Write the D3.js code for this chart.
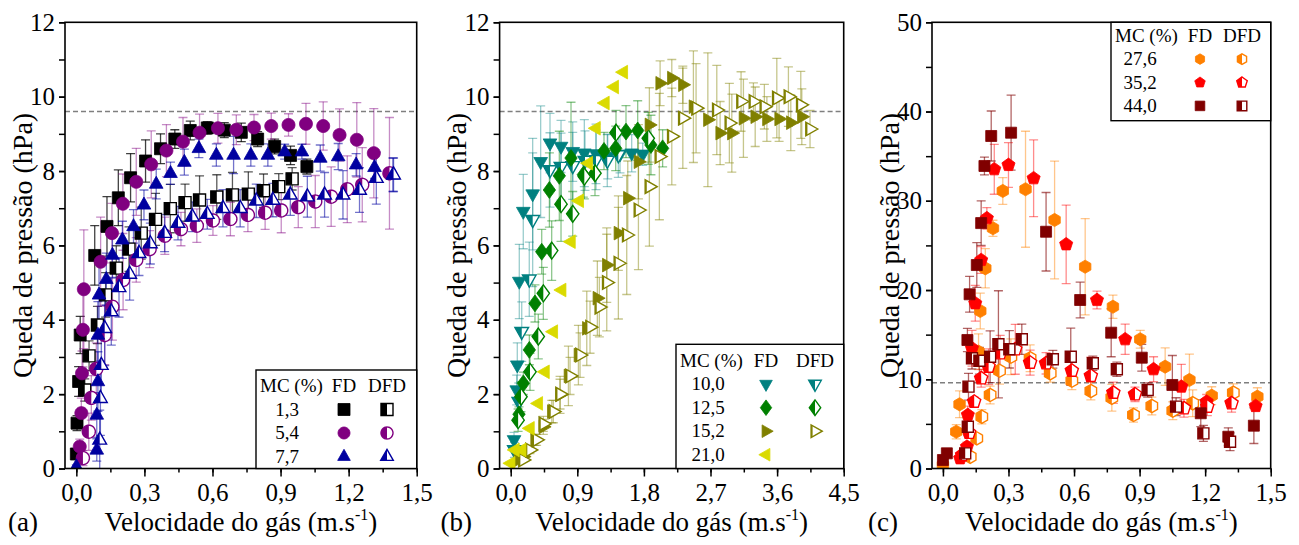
<!DOCTYPE html>
<html>
<head>
<meta charset="utf-8">
<script src="https://cdn.jsdelivr.net/npm/d3@7"></script>
<style>
  body { margin: 0; background: #fff; }
  svg { display: block; }
  text { font-family: "Liberation Serif", "Times New Roman", serif; fill: #000; }
</style>
</head>
<body>
<svg id="chart" width="1299" height="545"></svg>
<script>
// ---------------- Panel (a): MC 1,3 / 5,4 / 7,7 % ----------------
const velA_FD13 = [0.0,0.003,0.010,0.017,0.081,0.135,0.185,0.239,0.305,0.371,0.434,0.502,0.577,0.652,0.727,0.799,0.874,0.944,1.016];
const dpA_FD13  = [0.39,1.22,2.34,3.59,5.73,6.51,7.28,7.82,8.27,8.6,8.86,9.09,9.16,9.10,9.04,8.86,8.66,8.42,8.12];
const errA_FD13 = [0.1,0.2,0.4,0.5,0.8,0.8,0.75,0.65,0.57,0.4,0.25,0.25,0.17,0.2,0.25,0.2,0.2,0.25,0.2];

const velA_DFD13 = [0.037,0.056,0.093,0.129,0.176,0.232,0.286,0.349,0.414,0.479,0.543,0.619,0.688,0.758,0.825,0.892,0.951];
const dpA_DFD13  = [2.11,3.03,3.86,4.67,5.39,5.9,6.33,6.7,6.99,7.15,7.22,7.3,7.36,7.38,7.47,7.58,7.79];
const errA_DFD13 = [0.3,0.4,0.5,0.6,0.6,0.6,0.7,0.7,0.65,0.5,0.65,0.6,0.6,0.6,0.45,0.35,0.3];

const velA_FD54 = [0.015,0.022,0.025,0.029,0.033,0.107,0.157,0.205,0.264,0.33,0.397,0.47,0.543,0.624,0.705,0.783,0.859,0.935,1.012,1.088,1.16,1.236,1.311];
const dpA_FD54  = [0.59,1.49,2.56,3.73,4.82,5.56,6.33,7.12,7.71,8.18,8.55,8.79,9.03,9.15,9.11,9.17,9.21,9.24,9.27,9.21,8.97,8.84,8.48];
const errA_FD54 = [0.2,0.4,0.6,1.0,1.6,1.2,0.8,0.8,0.9,0.9,0.7,0.65,0.5,0.4,0.4,0.35,0.35,0.3,0.55,0.65,0.7,1.0,1.2];

const velA_DFD54 = [0.029,0.055,0.066,0.088,0.125,0.159,0.206,0.264,0.323,0.39,0.461,0.531,0.602,0.679,0.756,0.832,0.903,0.978,1.053,1.123,1.194,1.26,1.38];
const dpA_DFD54  = [0.28,0.99,1.9,2.68,3.59,4.35,5.07,5.61,5.9,6.26,6.44,6.53,6.67,6.71,6.82,6.88,6.94,7.03,7.18,7.31,7.51,7.63,7.94];
const errA_DFD54 = [0.2,0.5,0.6,0.7,0.8,0.9,0.8,0.6,0.5,0.5,0.45,0.45,0.4,0.45,0.45,0.45,0.6,0.55,0.7,0.8,0.9,1.0,1.5];

const velA_FD77 = [0.0,0.09,0.09,0.095,0.095,0.1,0.132,0.159,0.203,0.252,0.298,0.352,0.415,0.476,0.54,0.617,0.693,0.769,0.844,0.918,0.994,1.075,1.154,1.233,1.314,1.395];
const dpA_FD77  = [0.05,0.5,1.44,2.34,3.59,4.67,5.09,5.74,6.15,6.51,7.09,7.65,7.94,8.24,8.61,8.43,8.43,8.43,8.43,8.52,8.52,8.35,8.39,8.17,8.1,7.9];
const errA_FD77 = [0.05,0.3,0.6,0.8,0.9,0.9,0.7,0.6,0.5,0.45,0.4,0.4,0.3,0.35,0.25,0.3,0.5,0.3,0.3,0.2,0.2,0.35,0.35,0.3,0.3,0.45];

const velA_DFD77 = [0.103,0.106,0.11,0.125,0.154,0.188,0.235,0.276,0.326,0.389,0.448,0.511,0.577,0.646,0.722,0.793,0.866,0.943,1.018,1.094,1.175,1.248,1.322,1.398];
const dpA_DFD77  = [0.77,1.89,2.78,3.77,4.22,4.87,5.23,5.79,6.05,6.33,6.6,6.77,6.84,7.0,7.0,7.2,7.22,7.36,7.31,7.36,7.36,7.49,7.81,7.9];
const errA_DFD77 = [0.8,1.0,1.0,1.0,0.9,0.8,0.7,0.6,0.55,0.5,0.45,0.4,0.4,0.5,0.5,0.45,0.45,0.55,0.55,0.6,0.65,0.6,0.7,0.45];

// ---------------- Panel (b): MC 10,0 / 12,5 / 15,2 / 21,0 % ----------------
const velB_FD100 = [0.045,0.081,0.089,0.116,0.17,0.297,0.405,0.531,0.68,0.838,0.995,1.153,1.311,1.477,1.635,1.784];
const dpB_FD100  = [0.77,2.11,2.78,5.03,6.91,7.38,8.25,8.75,8.66,8.52,8.48,8.46,8.39,8.45,8.48,8.45];
const errB_FD100 = [0.2,0.4,0.6,1.0,1.0,1.5,1.5,0.8,0.7,0.8,0.9,0.8,0.6,0.5,0.5,0.3];

const velB_DFD100 = [0.05,0.11,0.149,0.251,0.297,0.531,0.68,0.838,1.004,1.153,1.305,1.454];
const dpB_DFD100  = [0.5,1.8,3.68,5.09,6.69,8.03,8.12,8.14,8.28,8.3,8.28,8.43];
const errB_DFD100 = [0.2,0.5,0.8,1.0,1.8,1.0,0.9,0.9,0.8,0.8,0.7,0.6];

const velB_FD125 = [0.112,0.171,0.252,0.328,0.419,0.523,0.657,0.815,0.981,1.261,1.419,1.558,1.716,1.895,2.053];
const dpB_FD125  = [1.46,2.29,3.19,4.44,5.83,7.49,7.87,8.35,7.9,8.54,8.61,9.06,9.09,8.7,8.61];
const errB_FD125 = [0.2,0.3,0.4,0.5,0.6,1.0,1.2,1.5,0.6,0.5,0.6,0.7,0.8,0.8,0.5];

const velB_DFD125 = [0.10,0.139,0.261,0.373,0.441,0.554,0.68,0.838,0.995,1.139,1.423,1.859];
const dpB_DFD125  = [1.3,1.93,2.6,3.55,4.71,5.86,7.11,6.85,7.85,7.94,9.03,8.88];
const errB_DFD125 = [0.3,0.4,0.5,0.6,0.7,0.8,1.0,0.6,0.6,0.6,0.6,0.7];

const velB_FD152 = [0.103,0.171,0.329,0.441,0.555,0.667,0.78,0.915,1.028,1.171,1.298,1.455,1.582,1.726,1.874,2.019,2.177,2.326,2.469,2.664,2.83,2.988,3.145,3.304,3.462,3.627,3.785,3.934];
const dpB_FD152  = [0.23,0.32,0.77,1.12,1.53,1.98,2.49,3.05,3.77,4.58,5.47,6.33,7.27,8.25,9.24,10.36,10.5,10.32,9.73,9.38,9.02,9.02,9.42,9.46,9.4,9.4,9.3,9.46];
const errB_FD152 = [0.05,0.1,0.15,0.2,0.3,0.5,0.8,0.8,1.0,1.0,1.0,1.0,1.0,1.0,1.0,0.6,0.5,0.5,1.5,1.8,0.85,1.05,1.05,0.8,0.6,0.6,0.75,0.75];

const velB_DFD152 = [0.166,0.26,0.35,0.441,0.576,0.667,0.802,0.937,1.072,1.198,1.298,1.455,1.568,1.726,1.874,2.009,2.177,2.326,2.505,2.785,2.955,3.113,3.28,3.428,3.596,3.753,3.92,4.045];
const dpB_DFD152  = [0.23,0.5,0.77,1.2,1.53,2.0,2.49,3.05,3.8,4.34,5.0,5.52,6.28,6.95,7.58,8.39,8.93,9.42,9.69,9.64,9.29,9.87,9.87,9.73,9.96,10.0,9.78,9.13];
const errB_DFD152 = [0.05,0.1,0.15,0.2,0.3,0.4,0.5,0.6,0.7,0.8,1.3,1.5,1.6,1.6,1.6,1.7,1.3,1.35,1.2,1.2,1.07,0.8,0.5,0.6,1.07,0.8,0.9,0.5];

const velB_FD210 = [0.0,0.058,0.149,0.261,0.373,0.464,0.576,0.689,0.815,0.927,1.049,1.153,1.274,1.4,1.522];
const dpB_FD210  = [0.14,0.5,0.5,1.08,1.75,2.6,3.68,4.8,6.1,7.2,8.21,9.15,9.83,10.26,10.66];
const errB_FD210 = [0,0,0,0,0,0,0,0,0,0,0,0,0,0,0];

// ---------------- Panel (c): MC 27,6 / 35,2 / 44,0 % ----------------
const velC_FD276 = [0.0,0.061,0.076,0.163,0.171,0.194,0.229,0.274,0.378,0.511,0.651,0.778,0.903,1.017,1.128,1.23,1.439];
const dpC_FD276  = [0.39,4.12,7.19,13.09,17.65,22.43,26.92,31.1,31.29,27.85,22.61,18.13,14.48,11.41,9.92,8.16,8.05];
const errC_FD276 = [0.2,0.8,1.5,2.0,2.0,2.2,0.9,1.5,6.5,6.6,5.4,1.3,1.0,2.1,2.9,1.0,1.0];

const velC_DFD276 = [0.125,0.155,0.178,0.216,0.259,0.311,0.399,0.491,0.59,0.677,0.773,0.872,0.956,1.052,1.143,1.329];
const dpC_DFD276  = [1.32,3.38,5.8,8.24,10.96,12.53,12.35,10.67,9.84,8.68,7.93,6.0,7.0,6.48,7.31,8.49];
const errC_DFD276 = [0.3,0.5,0.8,1.0,1.5,2.0,1.5,1.0,1.0,1.0,1.5,0.8,1.0,1.0,1.5,1.0];

const velC_FD352 = [0.079,0.11,0.114,0.133,0.148,0.175,0.201,0.235,0.3,0.415,0.564,0.705,0.834,0.964,1.091,1.207,1.431];
const dpC_FD352  = [1.14,2.44,6.0,13.47,18.51,23.36,28.04,33.53,34.01,32.52,25.12,18.88,14.48,11.12,9.17,7.49,7.0];
const errC_FD352 = [0.3,0.5,1.0,2.0,2.0,1.5,1.2,2.8,2.5,4.3,4.4,1.0,1.7,1.4,2.5,0.8,0.6];

const velC_DFD352 = [0.088,0.12,0.143,0.175,0.209,0.262,0.331,0.399,0.472,0.59,0.677,0.78,0.879,1.103,1.21,1.321];
const dpC_DFD352  = [1.5,4.0,7.49,10.11,11.41,12.91,13.36,11.86,11.79,10.96,10.37,8.49,8.31,6.75,6.93,7.31];
const errC_DFD352 = [0.3,0.4,0.5,1.0,2.0,2.0,2.8,1.4,1.2,1.0,2.1,1.2,0.8,1.0,1.0,1.0];

const velC_FD440 = [0.0,0.018,0.112,0.122,0.155,0.175,0.19,0.221,0.312,0.472,0.628,0.77,0.91,1.05,1.18,1.306,1.423];
const dpC_FD440  = [0.95,1.7,14.4,19.52,22.8,27.5,33.9,37.26,37.63,26.53,18.88,15.22,12.42,9.36,6.19,3.56,4.8];
const errC_FD440 = [0.3,0.5,1.3,2.0,2.5,2.5,1.0,2.8,4.2,4.4,2.0,2.7,1.5,3.3,1.5,1.0,2.0];

const velC_DFD440 = [0.102,0.114,0.117,0.133,0.167,0.216,0.254,0.304,0.361,0.503,0.585,0.686,0.796,0.937,1.067,1.192,1.314];
const dpC_DFD440  = [1.7,4.68,9.17,12.35,12.08,12.53,13.92,13.36,14.48,12.24,12.53,11.79,11.12,8.8,6.93,3.94,3.0];
const errC_DFD440 = [0.5,1.0,1.5,1.2,1.5,2.9,6.0,2.1,1.7,1.0,3.2,0.8,0.8,0.8,1.0,0.9,1.0];

// Axis tick values
const ticksA = [0, 0.3, 0.6, 0.9, 1.2, 1.5];
const ticksB = [0, 0.9, 1.8, 2.7, 3.6, 4.5];
const ticksC = [0, 0.3, 0.6, 0.9, 1.2, 1.5];
const ticksY12 = [0, 2, 4, 6, 8, 10, 12];
const ticksY50 = [0, 10, 20, 30, 40, 50];
const refLine = 9.6;

const legendA = ["1,3", "5,4", "7,7"];
const legendB = ["10,0", "12,5", "15,2", "21,0"];
const legendC = ["27,6", "35,2", "44,0"];

// ---------------- drawing ----------------
const svg = d3.select("#chart");
const Y_TOP = 22.3, Y_BOT = 468.5;

// marker outlines as polygons centred on (0,0)
const shapes = {
  square:  s => [[-s,-s],[s,-s],[s,s],[-s,s]],
  circle:  s => d3.range(40).map(i => { const a = i / 40 * 2 * Math.PI; return [s * Math.cos(a), s * Math.sin(a)]; }),
  triUp:   s => [[0,-s*1.2],[s*1.05,s*0.65],[-s*1.05,s*0.65]],
  triDown: s => [[0,s*1.2],[s*1.05,-s*0.65],[-s*1.05,-s*0.65]],
  triRight:s => [[s*1.2,0],[-s*0.65,-s*1.05],[-s*0.65,s*1.05]],
  triLeft: s => [[-s*1.2,0],[s*0.65,-s*1.05],[s*0.65,s*1.05]],
  diamond: s => [[0,-s*1.3],[s*0.95,0],[0,s*1.3],[-s*0.95,0]],
  hexagon: s => d3.range(6).map(i => { const a = (-90 + 60 * i) * Math.PI / 180; return [s*1.1*Math.cos(a), s*1.1*Math.sin(a)]; }),
  pentagon:s => d3.range(5).map(i => { const a = (-90 + 72 * i) * Math.PI / 180; return [s*1.15*Math.cos(a), s*1.15*Math.sin(a)]; })
};

// keep the part of a polygon with x <= cut
function clipLeft(pts, cut) {
  const out = [];
  for (let i = 0; i < pts.length; i++) {
    const cur = pts[i], prev = pts[(i + pts.length - 1) % pts.length];
    const cIn = cur[0] <= cut, pIn = prev[0] <= cut;
    const cross = () => { const t = (cut - prev[0]) / (cur[0] - prev[0]); return [cut, prev[1] + t * (cur[1] - prev[1])]; };
    if (cIn) { if (!pIn) out.push(cross()); out.push(cur); }
    else if (pIn) out.push(cross());
  }
  return out;
}
const polyPath = pts => "M" + pts.map(p => p[0].toFixed(2) + "," + p[1].toFixed(2)).join("L") + "Z";

function drawMarker(g, sr) {
  const pts = shapes[sr.shape](sr.size);
  if (!sr.half) {
    g.append("path").attr("d", polyPath(pts)).attr("fill", sr.color).attr("stroke", sr.color).attr("stroke-width", 0.8);
  } else {
    g.append("path").attr("d", polyPath(pts)).attr("fill", "#fff").attr("stroke", "none");
    g.append("path").attr("d", polyPath(clipLeft(pts, sr.cut === undefined ? 0 : sr.cut * sr.size))).attr("fill", sr.color);
    g.append("path").attr("d", polyPath(pts)).attr("fill", "none").attr("stroke", sr.color).attr("stroke-width", 1.4);
  }
}

const fmtX = d => d3.format(".1f")(d).replace(".", ",");

function drawPanel(cfg) {
  const x = d3.scaleLinear().domain(cfg.xDom).range([cfg.x0, cfg.x1]);
  const y = d3.scaleLinear().domain(cfg.yDom).range([Y_BOT, Y_TOP]);
  const g = svg.append("g");

  const clipId = "clip-" + cfg.id;
  svg.append("clipPath").attr("id", clipId).append("rect")
    .attr("x", cfg.x0).attr("y", Y_TOP).attr("width", cfg.x1 - cfg.x0).attr("height", Y_BOT - Y_TOP);

  // reference line
  g.append("line").attr("x1", cfg.x0).attr("x2", cfg.x1).attr("y1", y(refLine)).attr("y2", y(refLine))
    .attr("stroke", "#7f7f7f").attr("stroke-width", 1.5).attr("stroke-dasharray", "5,3");

  const plot = g.append("g").attr("clip-path", `url(#${clipId})`);
  cfg.series.forEach(sr => {
    const pts = sr.v.map((v, i) => ({ v, p: sr.p[i], e: sr.e[i] }));
    const eg = plot.append("g").attr("stroke", sr.errColor).attr("stroke-width", 1.3);
    const withErr = pts.filter(d => d.e > 0);
    eg.selectAll("line.bar").data(withErr).join("line").attr("class", "bar")
      .attr("x1", d => x(d.v)).attr("x2", d => x(d.v)).attr("y1", d => y(d.p - d.e)).attr("y2", d => y(d.p + d.e));
    [-1, 1].forEach(sg => {
      eg.selectAll("line.cap" + (sg + 1)).data(withErr).join("line").attr("class", "cap" + (sg + 1))
        .attr("x1", d => x(d.v) - 4.5).attr("x2", d => x(d.v) + 4.5)
        .attr("y1", d => y(d.p + sg * d.e)).attr("y2", d => y(d.p + sg * d.e));
    });
    sr.pts = pts;
  });
  cfg.series.forEach(sr => {
    plot.append("g").selectAll("g").data(sr.pts).join("g")
      .attr("transform", d => `translate(${x(d.v)},${y(d.p)})`)
      .each(function () { drawMarker(d3.select(this), sr); });
  });

  // frame
  g.append("rect").attr("x", cfg.x0).attr("y", Y_TOP).attr("width", cfg.x1 - cfg.x0).attr("height", Y_BOT - Y_TOP)
    .attr("fill", "none").attr("stroke", "#000").attr("stroke-width", 1.6);

  // axes
  const xMinor = d3.range(cfg.xTicks.length * 2 - 1).map(i => cfg.xTicks[0] + i * (cfg.xTicks[1] - cfg.xTicks[0]) / 2);
  const yMinor = d3.range(cfg.yTicks.length * 2 - 1).map(i => cfg.yTicks[0] + i * (cfg.yTicks[1] - cfg.yTicks[0]) / 2);
  const axX = g.append("g").attr("transform", `translate(0,${Y_BOT})`);
  axX.append("g").call(d3.axisBottom(x).tickValues(xMinor).tickSize(4).tickFormat(""));
  axX.append("g").call(d3.axisBottom(x).tickValues(cfg.xTicks).tickSize(8).tickPadding(7).tickFormat(fmtX));
  const axY = g.append("g").attr("transform", `translate(${cfg.x0},0)`);
  axY.append("g").call(d3.axisLeft(y).tickValues(yMinor).tickSize(6).tickFormat(""));
  axY.append("g").call(d3.axisLeft(y).tickValues(cfg.yTicks).tickSize(6).tickPadding(4).tickFormat(d3.format("d")));
  g.selectAll(".domain").remove();
  g.selectAll(".tick line").attr("stroke", "#000").attr("stroke-width", 1.5);
  g.selectAll(".tick text").attr("font-size", 25).attr("font-family", '"Liberation Serif", serif').attr("fill", "#000");

  // titles
  const xt = g.append("text").attr("x", (cfg.x0 + cfg.x1) / 2).attr("y", 531).attr("text-anchor", "middle").attr("font-size", 27);
  xt.append("tspan").text("Velocidade do gás (m.s");
  xt.append("tspan").attr("font-size", 16).attr("dy", -11).text("-1");
  xt.append("tspan").attr("dy", 11).text(")");
  g.append("text").attr("transform", `translate(${cfg.x0 - 43},${(Y_TOP + Y_BOT) / 2}) rotate(-90)`)
    .attr("text-anchor", "middle").attr("dy", "0.35em").attr("font-size", 28).text("Queda de pressão (hPa)");
  g.append("text").attr("x", cfg.x0 - cfg.letterDx).attr("y", 531).attr("font-size", 27).text(cfg.letter);

  // legend
  const L = cfg.legend;
  const lg = g.append("g");
  lg.append("rect").attr("x", L.x).attr("y", L.y).attr("width", cfg.x1 - L.x).attr("height", L.h)
    .attr("fill", "#fff").attr("stroke", "#000").attr("stroke-width", 1.4);
  lg.append("text").attr("x", L.x + 4).attr("y", L.y + L.headDy).attr("font-size", 19).text("MC (%)");
  lg.append("text").attr("x", L.fdX).attr("y", L.y + L.headDy).attr("text-anchor", "middle").attr("font-size", 19).text("FD");
  lg.append("text").attr("x", L.dfdX).attr("y", L.y + L.headDy).attr("text-anchor", "middle").attr("font-size", 19).text("DFD");
  L.labels.forEach((lab, i) => {
    const ry = L.y + L.headDy + (i + 1) * L.step;
    lg.append("text").attr("x", L.labX).attr("y", ry).attr("text-anchor", "middle").attr("font-size", 19).text(lab);
    L.rows[i].forEach((sr, j) => {
      if (!sr) return;
      const mg = lg.append("g").attr("transform", `translate(${j === 0 ? L.fdX : L.dfdX},${ry - 6})`);
      drawMarker(mg, Object.assign({}, sr, { size: L.mSize }));
    });
  });
}

const sA = {
  fd13:  { v: velA_FD13,  p: dpA_FD13,  e: errA_FD13,  color: "#000000", errColor: "rgba(0,0,0,0.75)", shape: "square", size: 6, half: false },
  dfd13: { v: velA_DFD13, p: dpA_DFD13, e: errA_DFD13, color: "#000000", errColor: "rgba(0,0,0,0.65)", shape: "square", size: 6, half: true },
  fd54:  { v: velA_FD54,  p: dpA_FD54,  e: errA_FD54,  color: "#800080", errColor: "rgba(128,0,128,0.45)", shape: "circle", size: 6.5, half: false },
  dfd54: { v: velA_DFD54, p: dpA_DFD54, e: errA_DFD54, color: "#800080", errColor: "rgba(128,0,128,0.45)", shape: "circle", size: 6.5, half: true },
  fd77:  { v: velA_FD77,  p: dpA_FD77,  e: errA_FD77,  color: "#0000A0", errColor: "rgba(0,0,160,0.55)", shape: "triUp", size: 6.5, half: false },
  dfd77: { v: velA_DFD77, p: dpA_DFD77, e: errA_DFD77, color: "#0000A0", errColor: "rgba(0,0,160,0.55)", shape: "triUp", size: 6.5, half: true }
};
const sB = {
  fd100:  { v: velB_FD100,  p: dpB_FD100,  e: errB_FD100,  color: "#008080", errColor: "rgba(0,128,128,0.4)", shape: "triDown", size: 6.5, half: false },
  dfd100: { v: velB_DFD100, p: dpB_DFD100, e: errB_DFD100, color: "#008080", errColor: "rgba(0,128,128,0.4)", shape: "triDown", size: 6.5, half: true },
  fd125:  { v: velB_FD125,  p: dpB_FD125,  e: errB_FD125,  color: "#008000", errColor: "rgba(0,128,0,0.45)", shape: "diamond", size: 6.5, half: false },
  dfd125: { v: velB_DFD125, p: dpB_DFD125, e: errB_DFD125, color: "#008000", errColor: "rgba(0,128,0,0.45)", shape: "diamond", size: 6.5, half: true },
  fd152:  { v: velB_FD152,  p: dpB_FD152,  e: errB_FD152,  color: "#808000", errColor: "rgba(128,128,0,0.45)", shape: "triRight", size: 6.5, half: false },
  dfd152: { v: velB_DFD152, p: dpB_DFD152, e: errB_DFD152, color: "#808000", errColor: "rgba(128,128,0,0.45)", shape: "triRight", size: 6.5, half: true, cut: -0.4 },
  fd210:  { v: velB_FD210,  p: dpB_FD210,  e: errB_FD210,  color: "#DADA00", errColor: "rgba(218,218,0,0.5)", shape: "triLeft", size: 6.5, half: false }
};
const sC = {
  fd276:  { v: velC_FD276,  p: dpC_FD276,  e: errC_FD276,  color: "#FF8000", errColor: "rgba(255,128,0,0.45)", shape: "hexagon", size: 6, half: false },
  dfd276: { v: velC_DFD276, p: dpC_DFD276, e: errC_DFD276, color: "#FF8000", errColor: "rgba(255,128,0,0.45)", shape: "hexagon", size: 6, half: true },
  fd352:  { v: velC_FD352,  p: dpC_FD352,  e: errC_FD352,  color: "#FF0000", errColor: "rgba(255,0,0,0.45)", shape: "pentagon", size: 6, half: false },
  dfd352: { v: velC_DFD352, p: dpC_DFD352, e: errC_DFD352, color: "#FF0000", errColor: "rgba(255,0,0,0.45)", shape: "pentagon", size: 6, half: true },
  fd440:  { v: velC_FD440,  p: dpC_FD440,  e: errC_FD440,  color: "#800000", errColor: "rgba(128,0,0,0.6)", shape: "square", size: 5.5, half: false },
  dfd440: { v: velC_DFD440, p: dpC_DFD440, e: errC_DFD440, color: "#800000", errColor: "rgba(128,0,0,0.6)", shape: "square", size: 5.5, half: true }
};

drawPanel({
  id: "a", x0: 65, x1: 416.7, xDom: [-0.05, 1.5], yDom: [0, 12], xTicks: ticksA, yTicks: ticksY12, letter: "(a)", letterDx: 57,
  series: [sA.fd13, sA.dfd13, sA.fd54, sA.dfd54, sA.fd77, sA.dfd77],
  legend: { x: 256, y: 370, h: Y_BOT - 370, headDy: 22, step: 23.5, labX: 287, fdX: 344, dfdX: 387, mSize: 6,
            labels: legendA, rows: [[sA.fd13, sA.dfd13], [sA.fd54, sA.dfd54], [sA.fd77, sA.dfd77]] }
});
drawPanel({
  id: "b", x0: 499.6, x1: 843.7, xDom: [-0.15, 4.5], yDom: [0, 12], xTicks: ticksB, yTicks: ticksY12, letter: "(b)", letterDx: 59,
  series: [sB.fd100, sB.dfd100, sB.fd125, sB.dfd125, sB.fd152, sB.dfd152, sB.fd210],
  legend: { x: 676, y: 344.3, h: Y_BOT - 344.3, headDy: 22.4, step: 23.5, labX: 708, fdX: 766, dfdX: 815, mSize: 6,
            labels: legendB, rows: [[sB.fd100, sB.dfd100], [sB.fd125, sB.dfd125], [sB.fd152, sB.dfd152], [sB.fd210, null]] }
});
drawPanel({
  id: "c", x0: 932, x1: 1270.7, xDom: [-0.05, 1.5], yDom: [0, 50], xTicks: ticksC, yTicks: ticksY50, letter: "(c)", letterDx: 64,
  series: [sC.fd276, sC.dfd276, sC.fd352, sC.dfd352, sC.fd440, sC.dfd440],
  legend: { x: 1111, y: Y_TOP, h: 120.7 - Y_TOP, headDy: 19.4, step: 23.4, labX: 1140, fdX: 1200, dfdX: 1242, mSize: 4.8,
            labels: legendC, rows: [[sC.fd276, sC.dfd276], [sC.fd352, sC.dfd352], [sC.fd440, sC.dfd440]] }
});
</script>
</body>
</html>
